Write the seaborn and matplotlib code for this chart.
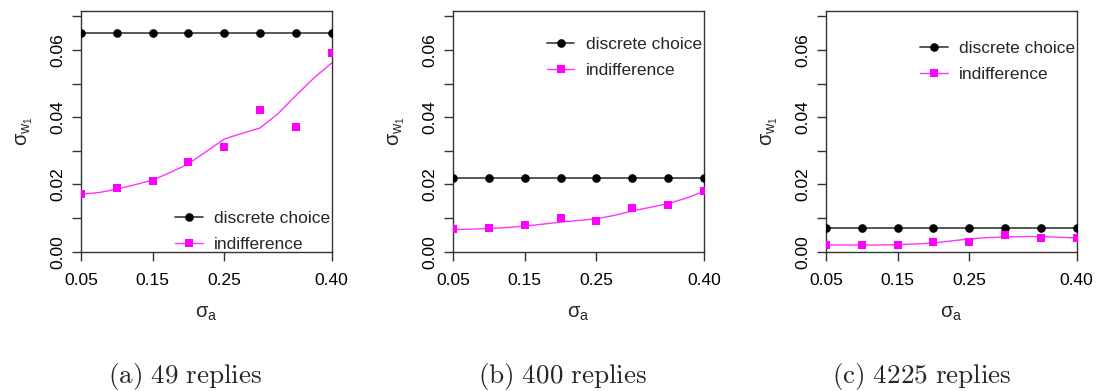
import numpy as np
import pandas as pd
import matplotlib
matplotlib.use("Agg")
import matplotlib.pyplot as plt
import seaborn as sns
from matplotlib.lines import Line2D

# ---------------- data ----------------
sigma_a = [0.05, 0.10, 0.15, 0.20, 0.25, 0.30, 0.35, 0.40]
curve_x = [0.05, 0.075, 0.10, 0.125, 0.15, 0.175, 0.20, 0.225, 0.25,
           0.275, 0.30, 0.325, 0.35, 0.375, 0.40]

discrete_49 = [0.065, 0.065, 0.065, 0.065, 0.065, 0.065, 0.065, 0.065]
indiff_49 = [0.0171, 0.0188, 0.0210, 0.0268, 0.0311, 0.0421, 0.0370, 0.0590]
smooth_49 = [0.0171, 0.0176, 0.0186, 0.0199, 0.0213, 0.0236, 0.0261, 0.0298,
             0.0335, 0.0352, 0.0368, 0.0410, 0.0464, 0.0516, 0.0561]

discrete_400 = [0.022, 0.022, 0.022, 0.022, 0.022, 0.022, 0.022, 0.022]
indiff_400 = [0.0069, 0.0071, 0.0079, 0.0099, 0.0091, 0.0129, 0.0138, 0.0180]
smooth_400 = [0.0066, 0.0067, 0.0069, 0.0072, 0.0076, 0.0082, 0.0088, 0.0093,
              0.0098, 0.0108, 0.0121, 0.0132, 0.0143, 0.0159, 0.0179]

discrete_4225 = [0.0070, 0.0070, 0.0070, 0.0070, 0.0070, 0.0070, 0.0070, 0.0070]
indiff_4225 = [0.0020, 0.0020, 0.0020, 0.0030, 0.0030, 0.0049, 0.0041, 0.0040]
smooth_4225 = [0.0020, 0.0020, 0.0020, 0.0020, 0.0021, 0.0023, 0.0026, 0.0032,
               0.0038, 0.0042, 0.0044, 0.0045, 0.0045, 0.0043, 0.0041]

captions = ["(a) 49 replies", "(b) 400 replies", "(c) 4225 replies"]
legend_labels = ["discrete choice", "indifference"]
xticks = [0.05, 0.15, 0.25, 0.40]
xtick_labels = ["0.05", "0.15", "0.25", "0.40"]
yticks = [0.00, 0.01, 0.02, 0.03, 0.04, 0.05, 0.06, 0.07]
ytick_labels = ["0.00", "", "0.02", "", "0.04", "", "0.06", ""]

# ---------------- style ----------------
sns.set_theme(style="white")
plt.rcParams["font.family"] = ["Liberation Sans", "DejaVu Sans"]
plt.rcParams["mathtext.fontset"] = "custom"
plt.rcParams["mathtext.rm"] = "Liberation Sans"
plt.rcParams["mathtext.it"] = "Liberation Sans"
plt.rcParams["mathtext.sf"] = "Liberation Sans"

BLACK_LINE = "#4a4a4a"
MAG = "#ff00ff"
MAG_LINE = "#ff33ff"
FS = 12.5

fig = plt.figure(figsize=(11.01, 3.91), dpi=100)

panels = [
    (discrete_49, indiff_49, smooth_49, 81, (0.376, 0.171)),
    (discrete_400, indiff_400, smooth_400, 453.3, (0.3725, 0.893)),
    (discrete_4225, indiff_4225, smooth_4225, 826, (0.3745, 0.876)),
]
W, H = 1101.0, 391.0
ax_top, ax_bot = 11.0, 251.7
ax_w = 250.5

caption_x = [185, 562, 922]

for i, (disc, ind, smo, left, leg_anchor) in enumerate(panels):
    ax = fig.add_axes([left / W, 1 - ax_bot / H, ax_w / W, (ax_bot - ax_top) / H])
    df_d = pd.DataFrame({"x": sigma_a, "y": disc})
    df_i = pd.DataFrame({"x": sigma_a, "y": ind})
    df_s = pd.DataFrame({"x": curve_x, "y": smo})

    sns.lineplot(data=df_d, x="x", y="y", ax=ax, color=BLACK_LINE, lw=1.3,
                 marker="o", markersize=6.2, markerfacecolor="black",
                 markeredgecolor="black", markeredgewidth=0, zorder=3)
    sns.lineplot(data=df_s, x="x", y="y", ax=ax, color=MAG_LINE, lw=1.0, zorder=2)
    sns.scatterplot(data=df_i, x="x", y="y", ax=ax, color=MAG, marker="s",
                    s=30, linewidth=0, zorder=4)

    ax.set_xlim(0.05, 0.40)
    ax.set_ylim(0.0, 0.0716)
    ax.set_xticks(xticks)
    ax.set_xticklabels(xtick_labels)
    ax.set_yticks(yticks)
    ax.set_yticklabels(ytick_labels)
    ax.tick_params(axis="both", which="both", direction="out", length=6.5,
                   width=1.0, color="#333333", labelsize=FS, labelcolor="black")
    ax.tick_params(axis="x", pad=9)
    ax.tick_params(axis="y", pad=5)
    for lab in ax.get_yticklabels():
        lab.set_rotation(90)
        lab.set_va("center")
    ax.tick_params(left=True, bottom=True)
    for s in ax.spines.values():
        s.set_visible(True)
        s.set_color("#333333")
        s.set_linewidth(1.0)
    ax.grid(False)

    ax.set_xlabel(r"$\sigma_{\mathrm{a}}$", fontsize=14.5, labelpad=11.5)
    ax.set_ylabel(r"$\sigma_{\mathrm{w_1}}$", fontsize=14.5, labelpad=11)

    handles = [
        Line2D([0], [0], color=BLACK_LINE, lw=1.3, marker="o", markersize=6.2,
               markerfacecolor="black", markeredgewidth=0),
        Line2D([0], [0], color=MAG_LINE, lw=1.0, marker="s", markersize=6,
               markerfacecolor=MAG, markeredgewidth=0),
    ]
    ax.legend(handles, legend_labels, loc="upper left",
              bbox_to_anchor=leg_anchor, frameon=False, fontsize=FS,
              handlelength=1.6, handletextpad=0.65, labelspacing=0.65,
              borderpad=0, borderaxespad=0)

    cap = r"$\mathrm{" + captions[i].replace(" ", r"\ ") + "}$"
    fig.text(caption_x[i] / W, 1 - 376 / H, cap, ha="center",
             va="center", fontsize=19.5, math_fontfamily="cm")

fig.savefig("out.png", dpi=100)
